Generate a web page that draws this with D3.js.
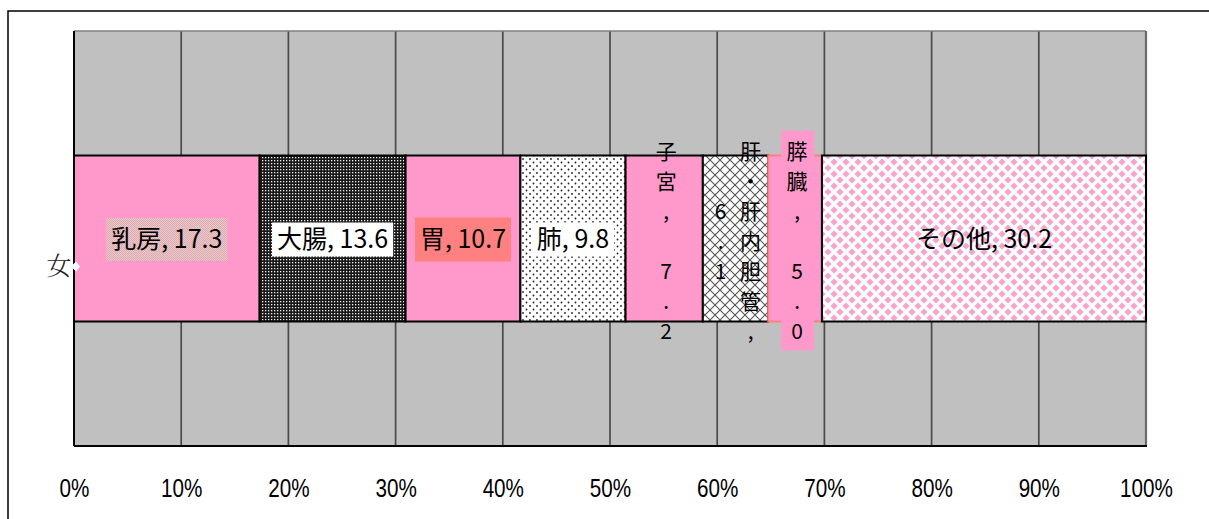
<!DOCTYPE html>
<html><head><meta charset="utf-8">
<script src="https://cdn.jsdelivr.net/npm/d3@7"></script>
<style>html,body{margin:0;padding:0;background:#fff;}svg{display:block;}</style>
</head><body>
<svg id="chart" width="1209" height="519"></svg>
<script>
// ---- data ----
const rowLabels = ["女"];
const categories = ["乳房", "大腸", "胃", "肺", "子宮", "肝・肝内胆管", "膵臓", "その他"];
const values = [17.3, 13.6, 10.7, 9.8, 7.2, 6.1, 5.0, 30.2];
const tickValues = [0, 0.1, 0.2, 0.3, 0.4, 0.5, 0.6, 0.7, 0.8, 0.9, 1.0];
const tickLabels = ["0%", "10%", "20%", "30%", "40%", "50%", "60%", "70%", "80%", "90%", "100%"];

// ---- styles ----
const segFill = ["#FF99CC", "url(#pDark)", "#FF99CC", "url(#pDots)", "#FF99CC", "url(#pCross)", "#FF99CC", "url(#pDiam)"];
const segStroke = ["#000", "#000", "#000", "#000", "#000", "#000", "#FF8080", "#000"];
const labelBg = ["url(#pLabel)", "#FFFFFF", "#FF8080", "#FFFFFF", null, null, "#FF99CC", null];
const labelBgH = [43, 34, 44, 34, 0, 0, 0, 0];

const W = 1209, H = 519;
const M = {left: 74, right: 1146, top: 31, bottom: 446};
const svg = d3.select("#chart");
const defs = svg.append("defs");

// patterns
let p = defs.append("pattern").attr("id", "pDark").attr("patternUnits", "userSpaceOnUse").attr("width", 3).attr("height", 3);
p.append("rect").attr("width", 3).attr("height", 3).attr("fill", "#181818");
p.append("rect").attr("x", 1).attr("y", 1).attr("width", 1.3).attr("height", 1.3).attr("fill", "#F0F0F0");

p = defs.append("pattern").attr("id", "pDots").attr("patternUnits", "userSpaceOnUse").attr("width", 7).attr("height", 7);
p.append("rect").attr("width", 7).attr("height", 7).attr("fill", "#FFFFFF");
p.append("circle").attr("cx", 1.5).attr("cy", 1.5).attr("r", 0.9).attr("fill", "#222");
p.append("circle").attr("cx", 5).attr("cy", 5).attr("r", 0.9).attr("fill", "#222");

p = defs.append("pattern").attr("id", "pCross").attr("patternUnits", "userSpaceOnUse").attr("width", 10).attr("height", 10);
p.append("rect").attr("width", 10).attr("height", 10).attr("fill", "#FFFFFF");
p.append("path").attr("d", "M0,0 L10,10 M10,0 L0,10").attr("stroke", "#555").attr("stroke-width", 1.1);

p = defs.append("pattern").attr("id", "pDiam").attr("patternUnits", "userSpaceOnUse").attr("width", 12).attr("height", 12);
p.append("rect").attr("width", 12).attr("height", 12).attr("fill", "#F8FCFE");
[[0,0],[12,0],[0,12],[12,12],[6,6]].forEach(([cx, cy]) => {
  p.append("path").attr("d", `M${cx},${cy-3.6} L${cx+3.6},${cy} L${cx},${cy+3.6} L${cx-3.6},${cy} Z`).attr("fill", "#F6A4CC");
});

p = defs.append("pattern").attr("id", "pLabel").attr("patternUnits", "userSpaceOnUse").attr("width", 2).attr("height", 2);
p.append("rect").attr("width", 2).attr("height", 2).attr("fill", "#F0C4CC");
p.append("rect").attr("width", 1).attr("height", 1).attr("fill", "#D6AFAF");
p.append("rect").attr("x", 1).attr("y", 1).attr("width", 1).attr("height", 1).attr("fill", "#D6AFAF");

// outer frame
svg.append("path").attr("d", `M8,${H} V11 H${W}`).attr("fill", "none").attr("stroke", "#000").attr("stroke-width", 1.5);

// scales
const x = d3.scaleLinear().domain([0, 1]).range([M.left, M.right]);
const y = d3.scaleBand().domain(rowLabels).range([M.top, M.bottom]).paddingInner(0).paddingOuter(0.75);

// plot area
svg.append("rect").attr("x", M.left).attr("y", M.top).attr("width", M.right - M.left).attr("height", M.bottom - M.top).attr("fill", "#C0C0C0");

// gridlines
svg.append("g").selectAll("line").data(tickValues.slice(1, -1)).join("line")
  .attr("x1", d => x(d)).attr("x2", d => x(d)).attr("y1", M.top).attr("y2", M.bottom)
  .attr("stroke", "#4a4a4a").attr("stroke-width", 1.7);

// plot border
svg.append("line").attr("x1", M.left).attr("x2", M.right).attr("y1", M.top).attr("y2", M.top).attr("stroke", "#808080").attr("stroke-width", 1.5);
svg.append("line").attr("x1", M.right).attr("x2", M.right).attr("y1", M.top).attr("y2", M.bottom).attr("stroke", "#6a6a6a").attr("stroke-width", 2.2);

// stack data
const rowObj = {row: rowLabels[0]};
categories.forEach((c, i) => rowObj[c] = values[i]);
const series = d3.stack().keys(categories).offset(d3.stackOffsetExpand)([rowObj]);

const bars = svg.append("g");
series.forEach((s, i) => {
  const d = s[0];
  bars.append("rect")
    .attr("x", x(d[0])).attr("y", y(d.data.row))
    .attr("width", x(d[1]) - x(d[0])).attr("height", y.bandwidth())
    .attr("fill", segFill[i]).attr("stroke", segStroke[i]).attr("stroke-width", 2);
});

// axes lines (category axis left, value axis bottom)
svg.append("line").attr("x1", M.left).attr("x2", M.left).attr("y1", M.top).attr("y2", M.bottom).attr("stroke", "#000").attr("stroke-width", 2);
svg.append("line").attr("x1", M.left).attr("x2", M.right + 1).attr("y1", M.bottom).attr("y2", M.bottom).attr("stroke", "#000").attr("stroke-width", 2);

// labels
const labG = svg.append("g").attr("font-family", "'Noto Sans CJK JP', sans-serif").attr("fill", "#000");
const rowH = 30, maxRows = 7;
series.forEach((s, i) => {
  const d = s[0];
  const x0 = x(d[0]), x1 = x(d[1]);
  const cx = (x0 + x1) / 2;
  const cy = y(d.data.row) + y.bandwidth() / 2 + 1;
  const txt = categories[i] + ", " + values[i].toFixed(1);
  if (x1 - x0 > 90) {
    const g = labG.append("g");
    const bgR = g.append("rect");
    const t = g.append("text").attr("x", cx).attr("y", cy).attr("dy", "0.35em")
      .attr("text-anchor", "middle").attr("font-size", 25).text(txt);
    if (labelBg[i]) {
      const bb = t.node().getBBox();
      const h = labelBgH[i];
      bgR.attr("x", bb.x - 5).attr("y", cy - h / 2).attr("width", bb.width + 10).attr("height", h).attr("fill", labelBg[i]);
    } else bgR.remove();
  } else {
    const chars = Array.from(txt);
    const cols = [];
    for (let k = 0; k < chars.length; k += maxRows) {
      const col = chars.slice(k, k + maxRows);
      while (col.length && col[0] === " ") col.shift();
      cols.push(col);
    }
    const g = labG.append("g");
    const colW = 30;
    const nC = cols.length;
    if (labelBg[i]) {
      const n = cols[0].length;
      g.append("rect").attr("x", cx - 16 + 2).attr("y", cy + 2 - (n / 2) * rowH - 6)
        .attr("width", 33).attr("height", n * rowH + 10).attr("fill", labelBg[i]);
    }
    cols.forEach((col, ci) => {
      const colX = cx + ((nC - 1) / 2 - ci) * colW + (nC === 1 ? 2 : 0);
      col.forEach((ch, ri) => {
        g.append("text").attr("x", colX).attr("y", cy + 2 + (ri - (col.length - 1) / 2) * rowH)
          .attr("dy", "0.35em").attr("text-anchor", "middle").attr("font-size", 21).text(ch);
      });
    });
  }
});

// category label and marker
const rowCy = y(rowLabels[0]) + y.bandwidth() / 2;
svg.append("path").attr("d", `M${M.left-3},${rowCy+28} L${M.left+2},${rowCy+23} L${M.left+6},${rowCy+28} L${M.left+2},${rowCy+33} Z`).attr("fill", "#fff");
svg.append("text").attr("x", 59).attr("y", rowCy + 28).attr("dy", "0.35em").attr("text-anchor", "middle")
  .attr("font-family", "'Noto Serif CJK JP', 'Noto Sans CJK JP', sans-serif").attr("font-weight", 300).attr("font-size", 25).attr("fill", "#222").text(rowLabels[0]);

// value axis tick labels
const xAxis = d3.axisBottom(x).tickValues(tickValues).tickFormat((d, i) => tickLabels[i]).tickSize(0);
const ax = svg.append("g").attr("transform", `translate(0,${M.bottom})`).call(xAxis);
ax.select(".domain").remove();
ax.selectAll("text").attr("y", 41).attr("dy", "0.36em")
  .attr("font-family", "'Liberation Sans', Arial, sans-serif").attr("font-size", 26.5).attr("fill", "#000")
  .attr("transform", "scale(0.78,1)");
</script>
</body></html>
